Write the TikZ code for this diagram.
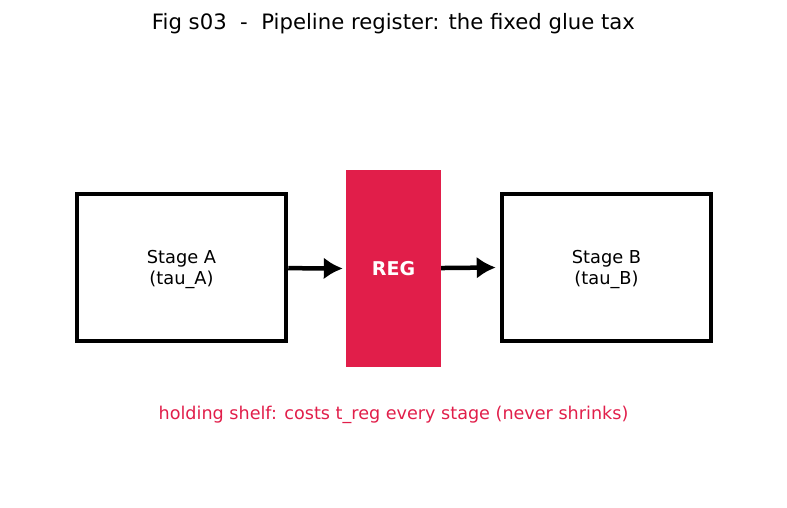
\documentclass[tikz,border=0pt]{standalone}
\usepackage{fontspec}
\setmainfont{DejaVu Sans}
\usepackage{tikz}
\usetikzlibrary{arrows.meta, positioning}
\definecolor{regred}{RGB}{225,30,74}

\begin{document}
\begin{tikzpicture}[x=1pt, y=-1pt,
    stagebox/.style={draw, line width=4.5pt, minimum width=209pt, minimum height=147pt},
    stagetext/.style={font=\fontsize{17.8}{21}\selectfont, align=center},
    regbox/.style={fill=regred, minimum width=95pt, minimum height=197pt, text=white, font=\fontsize{19}{22}\selectfont\bfseries},
    >={Latex[length=19pt, width=22pt]}]
      \useasboundingbox (0,0) rectangle (787,508);
      \node[font=\fontsize{21.2}{24}\selectfont] (title) at (393.5,24) {Fig s03\ \ -\ \ Pipeline register: the fixed glue tax};
      \node[stagebox] (stage_a) at (181.5,267.5) {};
      \node[stagetext] (text_a) at ([yshift=-2pt]stage_a.center) {Stage A\\(tau\_A)};
      \node[regbox] (reg) at (393.5,268.5) {REG};
      \node[stagebox] (stage_b) at (606.5,267.5) {};
      \node[stagetext] (text_b) at ([yshift=-2pt]stage_b.center) {Stage B\\(tau\_B)};
      \draw[->, line width=4.5pt] (stage_a) -- ([xshift=-3pt]reg.west);
      \draw[->, line width=4.5pt] (reg) -- ([xshift=-4pt]stage_b.west);
      \node[text=regred, font=\fontsize{17.6}{20}\selectfont] (shelf) at (393.5,415) {holding shelf: costs t\_reg every stage (never shrinks)};
    \end{tikzpicture}
\end{document}
